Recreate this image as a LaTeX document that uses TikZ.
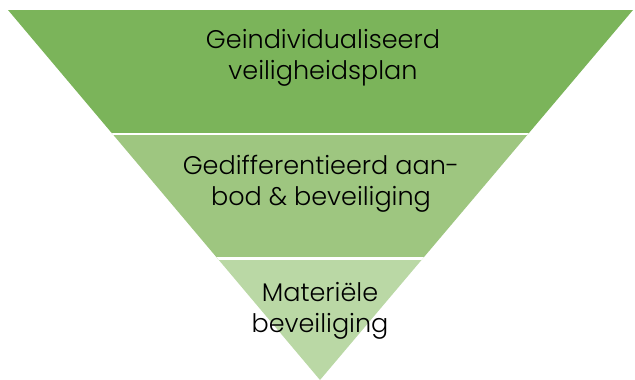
\documentclass[tikz,border=0pt]{standalone}
\usepackage{fontspec}
\setmainfont{Poppins}[UprightFont=* Light]
\definecolor{bandtop}{RGB}{123,180,90}
\definecolor{bandmid}{RGB}{158,198,128}
\definecolor{bandlow}{RGB}{186,216,165}
\begin{document}
\begin{tikzpicture}[x=1pt,y=-1pt,
    bandtext/.style={align=center,font=\fontsize{25.5}{31}\selectfont,text=black}]
  \useasboundingbox (0,0) rectangle (635,380);
  \coordinate (tl) at (8,10);
  \coordinate (tr) at (633,10);
  \coordinate (apex) at (320,380);
  \begin{scope}
    \clip (tl) -- (tr) -- (apex) -- cycle;
    \fill[bandtop] (0,0) rectangle (635,134);
    \fill[bandmid] (0,134) rectangle (635,258.5);
    \fill[bandlow] (0,258.5) rectangle (635,380);
    \draw[white,line width=2.5] (0,134) -- (635,134);
    \draw[white,line width=2.5] (0,258.5) -- (635,258.5);
  \end{scope}
  \node[bandtext] (plan) at (323,58) {Geindividualiseerd\\veiligheidsplan};
  \node[bandtext] (aanbod) at (321,184) {Gedifferentieerd aan-\\bod \& beveiliging};
  \node[bandtext] (materieel) at (320,311) {Materiële\\beveiliging};
\end{tikzpicture}
\end{document}
